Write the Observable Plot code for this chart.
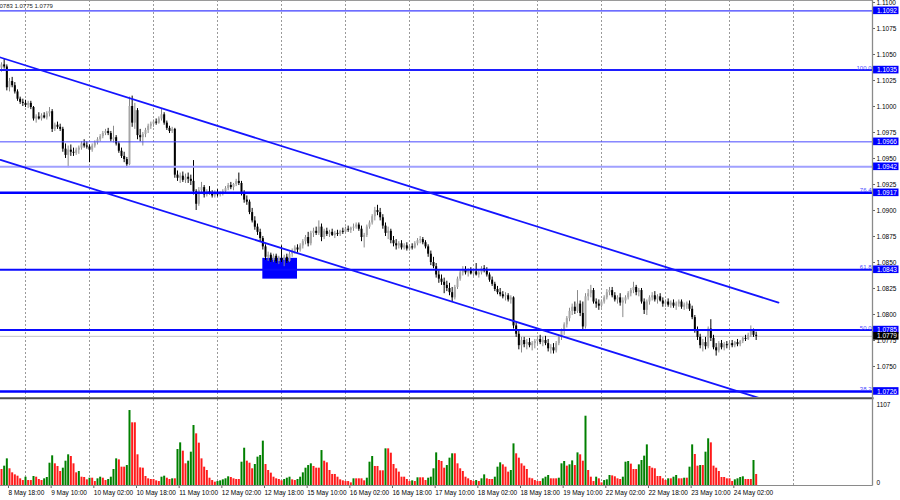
<!DOCTYPE html>
<html><head><meta charset="utf-8">
<script src="https://cdn.jsdelivr.net/npm/d3@7"></script>
<script src="https://cdn.jsdelivr.net/npm/@observablehq/plot@0.6"></script>
<style>
body{margin:0;background:#fff;}
#chart{position:relative;width:900px;height:500px;overflow:hidden;background:#fff;}
#chart svg{display:block;overflow:hidden;}
</style></head><body><div id="chart"></div>
<script>
// EURUSD H1 candles, values in pips above 1.0700; bar 0 = 8 May 18:00
const base = 1.07, pip = 0.0001, firstBar = -3;
const open = [337,340,338,318,324,320,314,307,304,303, 301,303,299,288,290,288,291,289,293,295,
278,282,280,278,259,253,258,256,255,258, 260,264,262,261,258,262,265,268,271,274,
276,274,268,270,264,257,252,249,244,300, 284,296,272,270,273,277,281,283,285,284,
288,292,284,279,276,278,234,231,233,229, 232,230,228,218,206,219,222,215,218,216,
214,217,215,216,218,221,224,222,225,228, 226,216,210,208,198,190,184,179,173,165,
155,157,152,156,151,154,152,155,151,158, 161,164,162,166,170,174,168,178,180,178,
184,174,180,177,179,176,178,177,180,179, 182,181,183,184,186,182,174,176,184,188,
194,200,198,193,185,178,180,171,168,166, 168,164,166,163,165,164,168,171,172,169,
165,158,150,146,138,134,131,128,125,121, 116,126,134,140,143,140,142,139,141,138,
140,144,142,138,133,129,124,121,119,117, 118,114,116,89,81,70,75,71,73,70,
72,74,76,73,75,72,67,68,65,72, 78,84,90,96,103,107,103,110,101,88,
117,120,123,112,110,108,112,116,121,123, 118,114,116,111,113,116,120,123,126,121,
123,112,104,112,116,118,114,117,113,110, 112,109,111,108,110,112,107,109,110,105,
97,85,78,70,73,69,86,77,68,65, 72,68,71,70,72,70,73,71,74,77, 76,80,84,80];
const high = [342,346,340,327,328,323,316,309,307,306, 305,305,300,292,294,293,294,295,299,297,
284,285,283,280,264,262,263,260,260,262, 266,268,266,263,264,267,270,273,276,278,
279,276,281,272,266,260,256,251,309,310, 303,298,278,275,279,283,285,287,288,290,
298,294,286,281,280,279,238,236,237,235, 236,234,248,220,222,227,224,220,223,219,
219,220,218,220,223,226,227,226,230,236, 228,219,214,210,202,194,187,182,175,167,
160,159,158,158,156,166,157,158,160,163, 166,167,168,172,176,179,180,183,184,190,
187,182,183,181,182,180,181,181,183,184, 185,184,187,188,188,185,178,186,190,196,
203,205,202,196,188,184,182,175,172,170, 171,168,169,167,168,170,173,175,174,171,
167,161,155,149,142,138,135,132,130,126, 128,136,142,146,146,144,145,143,149,142,
146,147,145,140,136,131,127,125,122,121, 120,118,117,92,84,78,78,76,77,74,
76,79,80,78,79,76,71,72,74,80, 86,92,98,106,110,112,123,113,112,120,
124,128,125,115,114,114,118,124,126,126, 121,118,120,116,118,122,125,131,128,125,
125,115,114,118,121,122,119,120,116,114, 115,113,114,112,114,114,111,112,113,108,
99,88,81,76,78,88,95,80,72,74, 75,73,74,74,75,74,76,75,78,80, 82,89,86,83];
const low = [333,336,315,314,318,312,305,302,300,299, 298,297,286,284,287,286,288,287,290,275,
276,278,276,256,250,241,252,252,253,254, 258,260,259,246,256,260,263,266,269,272,
272,266,265,262,255,250,246,241,243,280, 278,268,266,262,270,274,278,280,282,283,
286,282,277,274,274,231,228,226,227,226, 226,224,215,200,204,216,212,213,215,212,
212,213,213,214,216,219,220,219,223,224, 214,207,205,196,188,181,176,170,162,152,
151,150,150,149,148,150,146,149,150,155, 158,159,160,163,167,165,166,174,176,176,
170,172,175,174,175,173,175,175,177,177, 179,178,180,182,180,170,164,174,182,186,
190,195,190,182,175,172,168,165,162,163, 162,162,161,161,162,163,166,168,167,163,
155,147,144,135,130,128,120,122,118,112, 114,124,132,137,138,136,138,136,137,135,
138,140,136,131,127,122,119,117,115,113, 112,110,86,78,66,63,68,66,68,65,
67,70,71,69,70,64,62,62,63,70, 75,80,87,93,99,100,101,98,85,86,
113,116,110,106,104,106,110,114,118,116, 112,110,108,97,110,114,117,120,118,117,
110,100,99,109,113,112,110,112,107,107, 107,106,106,104,107,105,104,105,103,95,
82,75,67,64,66,67,74,66,60,63, 66,65,67,67,68,68,69,69,72,74, 75,78,78,75];
const close = [340,338,318,324,320,314,307,304,303,301, 303,299,288,290,288,291,289,293,295,278,
282,280,278,259,253,258,256,255,258,260, 264,262,261,258,262,265,268,271,274,276,
274,268,270,264,257,252,249,244,300,284, 296,272,270,273,277,281,283,285,284,288,
292,284,279,276,278,234,231,233,229,232, 230,228,218,206,219,222,215,218,216,214,
217,215,216,218,221,224,222,225,228,226, 216,210,208,198,190,184,179,173,165,155,
157,152,156,151,154,152,155,151,158,161, 164,162,166,170,174,168,178,180,178,184,
174,180,177,179,176,178,177,180,179,182, 181,183,184,186,182,174,176,184,188,194,
200,198,193,185,178,180,171,168,166,168, 164,166,163,165,164,168,171,172,169,165,
158,150,146,138,134,131,128,125,121,116, 126,134,140,143,140,142,139,141,138,140,
144,142,138,133,129,124,121,119,117,118, 114,116,89,81,70,75,71,73,70,72,
74,76,73,75,72,67,68,65,72,78, 84,90,96,103,107,103,110,101,88,117,
120,123,112,110,108,112,116,121,123,118, 114,116,111,113,116,120,123,126,121,123,
112,104,112,116,118,114,117,113,110,112, 109,111,108,110,112,107,109,110,105,97,
85,78,70,73,69,86,77,68,65,72, 68,71,70,72,70,73,71,74,77,76, 80,84,80,79];
const volume = [206,249,343,215,163,137,120,86,64,107, 64,64,116,107,77,64,86,103,287,382,
279,245,180,223,313,395,373,279,163,180, 107,103,73,94,94,51,86,107,94,64,
77,107,206,343,330,236,236,257,965,807, 807,395,227,223,116,86,77,77,60,51,
107,120,94,77,86,86,463,549,442,279, 313,429,772,665,545,343,236,193,94,64,
43,51,60,73,86,112,103,86,77,77, 300,480,313,287,215,270,365,386,571,270,
193,159,107,86,77,60,77,94,107,73, 64,77,107,163,223,257,279,245,223,223,
450,313,292,193,142,142,107,73,60,51, 51,34,86,86,86,86,60,94,300,373,
245,245,189,189,472,472,416,270,215,172, 107,107,77,51,60,51,99,99,99,64,
94,107,215,420,322,
309,223,257,352,408,408,279,215,180,107, 86,64,51,64,51,86,137,86,77,77,
107,236,292,266,236,172,193,536,408,352, 279,249,206,94,86,64,51,51,86,107,
129,86,86,86,94,279,309,249,266,317, 257,420,395,313,892,193,107,51,107,86,
34,64,73,129,124,112,86,77,107,300, 309,275,206,206,266,322,378,523,245,223,
215,116,116,86,64,86,86,107,129,86, 86,94,94,236,523,399,249,257,257,429,
601,549,249,223,180,103,103,86,86,51, 73,86,103,112,77,77,77,322,142];
const volMax = 1107;

const timeLabels = ["8 May 18:00","9 May 10:00","10 May 02:00","10 May 18:00","11 May 10:00","12 May 02:00",
"12 May 18:00","15 May 10:00","16 May 02:00","16 May 18:00","17 May 10:00","18 May 02:00","18 May 18:00",
"19 May 10:00","22 May 02:00","22 May 18:00","23 May 10:00","24 May 02:00"];
const labelBars = [0,16,32,48,64,80,96,112,128,144,160,176,192,208,224,240,256,272];
const dayBars = [6,30,54,78,102,126,150,174,198,222,246,270,294];
const priceTicks = [1.0750,1.0775,1.0800,1.0825,1.0850,1.0875,1.0900,1.0925,1.0950,1.0975,1.1000,1.1025,1.1050,1.1075,1.1100];
const levels = [1.1092,1.1035,1.0966,1.0942,1.0917,1.0843,1.0785,1.0726];
const fibText = ["","100.0","","","76.4","61.8","50.0","38.2"];
const upperChannel = [{bar:-3.375, price:1.10471},{bar:288.375, price:1.08115}];
const lowerChannel = [{bar:-3.375, price:1.09486},{bar:282, price:1.0719}];
const zone = [{bar1:95, bar2:108, price1:1.0834, price2:1.0854}];

// styles
const levelStroke = ["#3c3cff","#1e1eff","#4a4aff","#a0a0ff","#0000ff","#0a0aff","#0a0aff","#0000ff"];
const levelWidth = [1.3,2,1,2,2.6,2,2,2.6];
const font = "Liberation Sans, Arial, sans-serif";

const bars = close.map((c,k)=>({bar:firstBar+k, o:base+open[k]*pip, h:base+high[k]*pip, l:base+low[k]*pip, c:base+c*pip}));
const up = bars.filter(d=>d.c>=d.o), down = bars.filter(d=>d.c<d.o);
const vols = volume.map((v,k)=>({bar:firstBar+k, v, rising: k>0 && v>volume[k-1]}));
const last = bars[bars.length-1];
const lastPrice = last.c;
const header = [last.h,last.l,last.c].map(v=>v.toFixed(4)).join(" ");

const X = {type:"linear", domain:[-3.375, 323.625], axis:null};

const boxes = (vals, colors) => (index, scales, values, dims) => {
  const g = d3.create("svg:g");
  const x0 = dims.width - dims.marginRight + 1;
  vals.forEach((v,k)=>{
    g.append("rect").attr("x",x0).attr("y",scales.y(v)-3.8).attr("width",25.5).attr("height",7.6).attr("fill",colors[k]);
  });
  return g.node();
};
const frameLines = (index, scales, values, dims) => {
  const g = d3.create("svg:g");
  const xr = dims.width - dims.marginRight + 0.5;
  g.append("line").attr("x1",0).attr("x2",xr).attr("y1",0.5).attr("y2",0.5).attr("stroke","#9a9a9a");
  g.append("line").attr("x1",xr).attr("x2",xr).attr("y1",0).attr("y2",dims.height).attr("stroke","#8a8a8a").attr("stroke-width",1.3);
  return g.node();
};

const pricePlot = Plot.plot({
  width:900, height:397, marginTop:0, marginBottom:0, marginLeft:0, marginRight:28,
  style:{fontFamily:font, fontSize:"6.5px", background:"#fff", color:"#000"},
  x:X, y:{domain:[1.071923+0.0000962,1.110192], axis:null},
  marks:[
    Plot.ruleX(dayBars, {stroke:"#9a9a9a", strokeDasharray:"2,2", strokeWidth:1}),
    Plot.rect(zone, {x1:"bar1", x2:"bar2", y1:"price1", y2:"price2", fill:"#0000ff"}),
    Plot.ruleY([lastPrice], {stroke:"#c4c4c4", strokeWidth:1}),
    Plot.ruleX(up, {x:"bar", y1:"l", y2:"h", stroke:"#8a8a8a", strokeWidth:1}),
    Plot.ruleX(down, {x:"bar", y1:"l", y2:"h", stroke:"#000", strokeWidth:1}),
    Plot.ruleX(up, {x:"bar", y1:"o", y2:"c", stroke:"#a6a6a6", strokeWidth:2}),
    Plot.ruleX(down, {x:"bar", y1:"o", y2:"c", stroke:"#000", strokeWidth:2}),
    ...levels.map((lv,k)=>Plot.ruleY([lv], {stroke:levelStroke[k], strokeWidth:levelWidth[k]})),
    Plot.line(upperChannel, {x:"bar", y:"price", stroke:"#1414ff", strokeWidth:1.8, clip:true}),
    Plot.line(lowerChannel, {x:"bar", y:"price", stroke:"#1414ff", strokeWidth:1.8, clip:true}),
    Plot.text(levels, {y:d=>d, text:(d,i)=>fibText[i], frameAnchor:"right", textAnchor:"end", lineAnchor:"bottom", dx:-1, dy:-0.5, fill:"#4a4aff", fontSize:6}),
    Plot.text([header], {text:d=>d, frameAnchor:"top-left", textAnchor:"start", lineAnchor:"top", dx:-6, dy:3, fill:"#222", fontSize:6}),
    Plot.axisY({anchor:"right", ticks:priceTicks, tickFormat:d=>d.toFixed(4), tickSize:2, tickPadding:2, label:null, fontSize:6.5, stroke:"#666"}),
    boxes([...levels, lastPrice], [...levels.map(()=>"#0000ff"), "#000"]),
    Plot.text([...levels, lastPrice], {y:d=>d, text:d=>d.toFixed(4), frameAnchor:"right", textAnchor:"start", dx:4.5, fill:"#fff", fontSize:6.5}),
    frameLines
  ]
});

const volFrame = (index, scales, values, dims) => {
  const g = d3.create("svg:g");
  const xr = dims.width - dims.marginRight + 0.5;
  const yb = scales.y(0) + 0.5;
  g.append("line").attr("x1",0).attr("x2",xr+1).attr("y1",1.2).attr("y2",1.2).attr("stroke","#4d4d4d").attr("stroke-width",2);
  g.append("line").attr("x1",0).attr("x2",xr).attr("y1",yb).attr("y2",yb).attr("stroke","#8a8a8a").attr("stroke-width",1.2);
  g.append("line").attr("x1",xr).attr("x2",xr).attr("y1",0).attr("y2",yb).attr("stroke","#8a8a8a").attr("stroke-width",1.3);
  return g.node();
};

const volPlot = Plot.plot({
  width:900, height:103, marginTop:2, marginBottom:15, marginLeft:0, marginRight:28,
  style:{fontFamily:font, fontSize:"6.5px", background:"#fff", color:"#000"},
  x:X, y:{domain:[0, volMax], axis:null},
  marks:[
    Plot.ruleX(dayBars, {stroke:"#9a9a9a", strokeDasharray:"2,2", strokeWidth:1}),
    Plot.ruleX(vols.filter(d=>d.rising), {x:"bar", y1:0, y2:"v", stroke:"#008000", strokeWidth:2}),
    Plot.ruleX(vols.filter(d=>!d.rising), {x:"bar", y1:0, y2:"v", stroke:"#ff1a1a", strokeWidth:2}),
    Plot.axisX({ticks:labelBars, tickFormat:d=>timeLabels[labelBars.indexOf(d)], tickSize:3, tickPadding:2, textAnchor:"start", dx:-1, label:null, fontSize:6.5, stroke:"#666"}),
    Plot.axisY({anchor:"right", ticks:[volMax], tickFormat:d=>String(d), tickSize:0, tickPadding:4, dy:5, label:null, fontSize:6.5}),
    Plot.axisY({anchor:"right", ticks:[0], tickFormat:d=>String(d), tickSize:0, tickPadding:4, dy:-3, label:null, fontSize:6.5}),
    volFrame
  ]
});

const el = document.getElementById("chart");
el.append(pricePlot, volPlot);
</script>
</body></html>
